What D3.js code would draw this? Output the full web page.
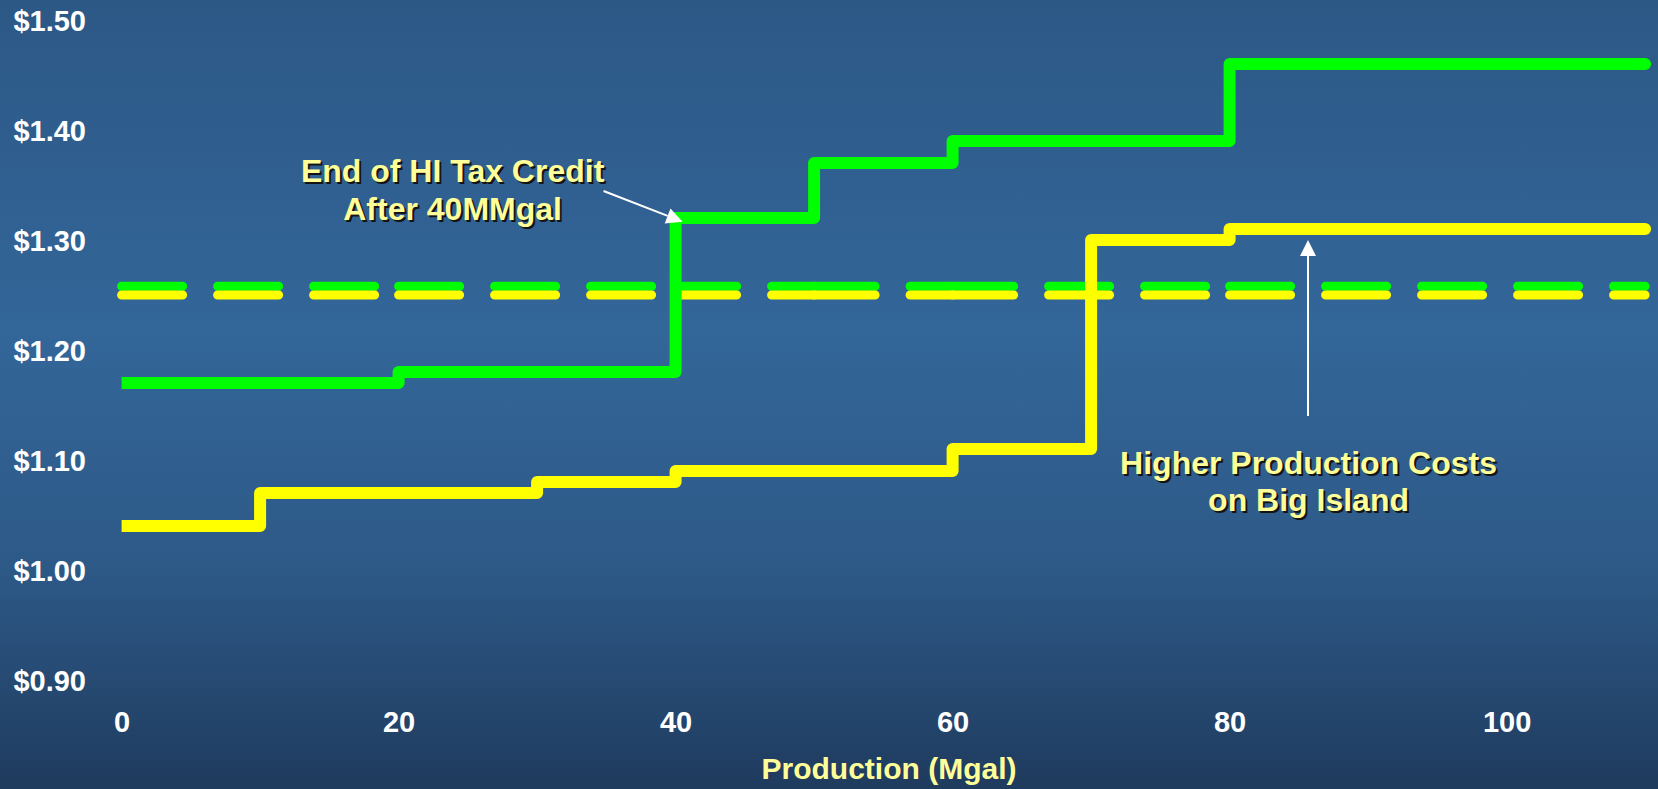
<!DOCTYPE html>
<html>
<head>
<meta charset="utf-8">
<script src="https://cdn.jsdelivr.net/npm/d3@7"></script>
<style>
  html, body { margin: 0; padding: 0; background: #2f5f90; }
  svg { display: block; }
  text { font-family: "Liberation Sans", Arial, sans-serif; font-weight: bold; }
</style>
</head>
<body>
<svg id="chart" width="1658" height="789"></svg>
<script>
// Production volume (Mgal) where each cost step begins; last entry is the end of the range
const greenSteps = [0, 20, 40, 50, 60, 80, 110];
const greenCosts = [1.17, 1.18, 1.32, 1.37, 1.39, 1.46];

const yellowSteps = [0, 10, 30, 40, 60, 70, 80, 110];
const yellowCosts = [1.04, 1.07, 1.08, 1.09, 1.11, 1.30, 1.31];

// Reference price levels (dashed), drawn as pieces between these volumes
const refBreaks = [0, 20, 40, 50, 60, 80, 110];
const greenRef = 1.258;
const yellowRef = 1.25;

const xTicks = [0, 20, 40, 60, 80, 100];
const yTicks = [0.90, 1.00, 1.10, 1.20, 1.30, 1.40, 1.50];

const W = 1658, H = 789;
const svg = d3.select("#chart");

// Background gradient
const defs = svg.append("defs");
const grad = defs.append("linearGradient").attr("id", "bg")
  .attr("x1", 0).attr("y1", 0).attr("x2", 0).attr("y2", 1);
[[0, "#2c5886"], [0.42, "#336699"], [0.72, "#2d5987"], [1, "#1f3b5e"]]
  .forEach(([o, c]) => grad.append("stop").attr("offset", o).attr("stop-color", c));
svg.append("rect").attr("width", W).attr("height", H).attr("fill", "url(#bg)");

const x = d3.scaleLinear().domain([0, 100]).range([121.6, 1506.6]);
const y = d3.scaleLinear().domain([0.9, 1.5]).range([680, 20]);

// Axes (labels only)
const yAxis = svg.append("g").attr("transform", "translate(86,0)")
  .call(d3.axisLeft(y).tickValues(yTicks).tickSize(0).tickPadding(0)
    .tickFormat(d => "$" + d3.format(".2f")(d)));
const xAxis = svg.append("g").attr("transform", "translate(0,711)")
  .call(d3.axisBottom(x).tickValues(xTicks).tickSize(0).tickPadding(0)
    .tickFormat(d3.format("d")));
[yAxis, xAxis].forEach(a => {
  a.select(".domain").remove();
  a.selectAll("text").attr("fill", "#ffffff")
    .style("font-size", "29px").style("font-family", "'Liberation Sans', Arial, sans-serif")
    .style("font-weight", "bold");
});
yAxis.selectAll("text").attr("dy", "0.37em");
xAxis.selectAll("text").attr("dy", "0.74em");

svg.append("text").attr("x", 889).attr("y", 779)
  .attr("text-anchor", "middle").attr("fill", "#ffff99")
  .style("font-size", "30px").text("Production (Mgal)");

// Dashed reference levels, pattern restarting at each break
function dashedLevel(level, color) {
  const pieces = d3.pairs(refBreaks);
  svg.append("g").selectAll("line").data(pieces).join("line")
    .attr("x1", d => x(d[0])).attr("x2", d => x(d[1]))
    .attr("y1", y(level)).attr("y2", y(level))
    .attr("stroke", color).attr("stroke-width", 9)
    .attr("stroke-linecap", "round").attr("stroke-dasharray", "61 35");
}
dashedLevel(greenRef, "#00ff00");
dashedLevel(yellowRef, "#ffff00");

// Step cost curves
function stepLine(steps, costs, color) {
  const pts = costs.map((c, i) => ({ x: steps[i], c }));
  pts.push({ x: steps[steps.length - 1], c: costs[costs.length - 1] });
  const line = d3.line().x(d => x(d.x)).y(d => y(d.c)).curve(d3.curveStepAfter);
  svg.append("path").datum(pts).attr("d", line)
    .attr("fill", "none").attr("stroke", color).attr("stroke-width", 12)
    .attr("stroke-linejoin", "round").attr("stroke-linecap", "butt");
  const last = pts[pts.length - 1];
  svg.append("circle").attr("cx", x(last.x)).attr("cy", y(last.c)).attr("r", 6).attr("fill", color);
}
stepLine(yellowSteps, yellowCosts, "#ffff00");
stepLine(greenSteps, greenCosts, "#00ff00");

// Annotations
function arrow(x1, y1, x2, y2) {
  const ang = Math.atan2(y2 - y1, x2 - x1);
  const len = 16, half = 8;
  const bx = x2 - len * Math.cos(ang), by = y2 - len * Math.sin(ang);
  svg.append("line").attr("x1", x1).attr("y1", y1).attr("x2", bx).attr("y2", by)
    .attr("stroke", "#ffffff").attr("stroke-width", 2);
  const px = -Math.sin(ang) * half, py = Math.cos(ang) * half;
  svg.append("path")
    .attr("d", `M${x2},${y2}L${bx + px},${by + py}L${bx - px},${by - py}Z`)
    .attr("fill", "#ffffff");
}
function label(lines, cx, baselines) {
  lines.forEach((t, i) => {
    svg.append("text").attr("x", cx + 2).attr("y", baselines[i] + 2)
      .attr("text-anchor", "middle").attr("fill", "#141414")
      .style("font-size", "32px").text(t);
    svg.append("text").attr("x", cx).attr("y", baselines[i])
      .attr("text-anchor", "middle").attr("fill", "#ffff99")
      .style("font-size", "32px").text(t);
  });
}
label(["End of HI Tax Credit", "After 40MMgal"], x(23.9), [182, 220]);
arrow(x(34.8), y(1.3445), x(40.5), y(1.3166));
label(["Higher Production Costs", "on Big Island"], x(85.7), [474, 511]);
arrow(x(85.66), y(1.14), x(85.66), y(1.30));
</script>
</body>
</html>
